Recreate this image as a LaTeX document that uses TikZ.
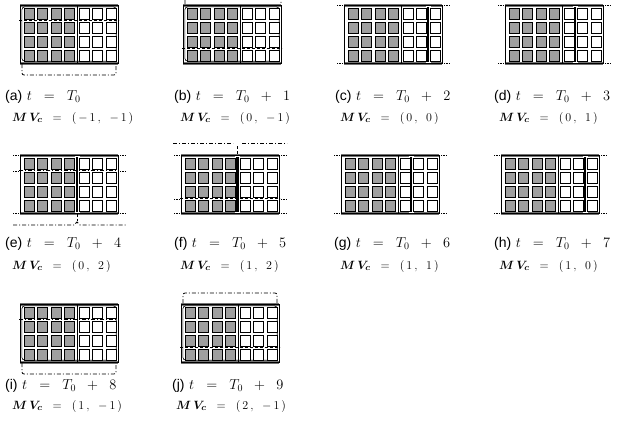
\documentclass[tikz,border=0pt]{standalone}
\usepackage{amsmath,amssymb,bm}
\usepackage{fontspec}
\newfontfamily\lbl{Liberation Sans}
\usetikzlibrary{arrows}
% 7 x 4 blocks, left four shaded
\newcommand{\cellgrid}{%
  \foreach \i in {0,...,6}
    \foreach \j in {0,...,3}
      {\ifnum\i<4 \def\cfill{gray!75}\def\cx{0}\else\def\cfill{white}\def\cx{1}\fi
       \draw[cell, fill=\cfill] ({4+13.5*\i+\cx},{3.5+14*\j}) rectangle +(10,10.5);}}
\newcommand{\ringpanel}{%
  \fill[white] (0,0) rectangle (98,58);
  \draw[rail] (0,0) -- (98,0) (0,58) -- (98,58);
  \draw[boxline] (0,0) rectangle (98,58);
  \draw[boxline, rounded corners=3pt] (1.8,1.8) rectangle (96.2,56.2);
  \cellgrid
  \draw[boxline] (57,0) -- (57,58);}
\newcommand{\barpanel}[1]{%
  \fill[white] (0,0) rectangle (98,58);
  \cellgrid
  \draw[rail] (0,0) -- (98,0) (0,58) -- (98,58);
  \draw[boxline] (0,0) rectangle (98,58) (57,0) -- (57,58);
  \draw[seam] (#1,0) -- (#1,58);
  \draw[white, line width=0.8pt] ({#1-2.5},1) -- ({#1+2.5},1) ({#1-2.5},57) -- ({#1+2.5},57);
  \draw[stub] (-7,0) -- (-2,0) (100,0) -- (106,0) (-7,58) -- (-2,58) (100,58) -- (106,58);}

\begin{document}
\begin{tikzpicture}[x=1pt, y=-1pt,
  cell/.style={line width=0.8pt},
  boxline/.style={draw=black, line width=0.6pt},
  rail/.style={black!55, line width=3pt},
  seam/.style={black, line width=2.5pt},
  stub/.style={densely dotted, line width=0.6pt},
  dashline/.style={dash pattern=on 3pt off 2pt, line width=0.8pt},
  dotdash/.style={dash pattern=on 4pt off 2pt on 1pt off 2pt, line width=0.8pt},
  sublabel/.style={anchor=west, inner sep=0pt, font=\fontsize{14}{16}\selectfont},
  mvlabel/.style={anchor=west, inner sep=0pt, font=\fontsize{12.5}{14}\selectfont}]
\useasboundingbox (0,0) rectangle (621,432);
\clip (0,0) rectangle (621,432);

% row 1
\begin{scope}[shift={(20,5)}]
  \ringpanel
  \draw[dashline] (-1,15.8) -- (99,15.8);
  \draw[dotdash, rounded corners=2pt] (2,59) -- (2,70) -- (96,70) -- (96,59);
\end{scope}
\begin{scope}[shift={(183,5)}]
  \ringpanel
  \draw[dashline] (-1,43.8) -- (99,43.8);
  \draw[dotdash, rounded corners=2pt] (2,-1) -- (2,-12) -- (98,-12) -- (98,-1);
\end{scope}
\begin{scope}[shift={(344,5)}]
  \barpanel{84}
\end{scope}
\begin{scope}[shift={(505,5)}]
  \barpanel{70}
\end{scope}

% row 2
\begin{scope}[shift={(20,155)}]
  \barpanel{57}
  \draw[dotdash] (-1,15.8) -- (99,15.8);
  \draw[stub] (-7,15.8) -- (-2,15.8) (100,15.8) -- (106,15.8);
  \draw[dashline] (57,59) -- (57,66);
  \draw[dotdash] (-7,70) -- (54,70) -- (57,67) -- (60,70) -- (106,70);
\end{scope}
\begin{scope}[shift={(181,155)}]
  \barpanel{56}
  \draw[dashline] (-1,43.8) -- (99,43.8);
  \draw[stub] (-7,43.8) -- (-2,43.8) (100,43.8) -- (106,43.8);
  \draw[dotdash] (-8,-12) -- (52,-12) (61,-12) -- (106,-12);
  \draw[dashline] (56,-9) -- (56,-1);
\end{scope}
\begin{scope}[shift={(341,155)}]
  \barpanel{70}
\end{scope}
\begin{scope}[shift={(501,155)}]
  \barpanel{84}
\end{scope}

% row 3
\begin{scope}[shift={(20,304)}]
  \ringpanel
  \draw[dotdash] (-1,15.8) -- (99,15.8);
  \draw[dotdash, rounded corners=2pt] (2,59) -- (2,70) -- (96,70) -- (96,59);
\end{scope}
\begin{scope}[shift={(181,304)}]
  \ringpanel
  \draw[dashline] (-1,43.8) -- (99,43.8);
  \draw[dotdash, rounded corners=2pt] (2,-1) -- (2,-11) -- (96,-11) -- (96,-1);
\end{scope}

% captions
\node[sublabel] (ta) at (5,97) {{\lbl(a)} $t\;\;=\;\;T_0$};
\node[sublabel] (tb) at (174,97) {{\lbl(b)} $t\;\;=\;\;T_0\;\;+\;\;1$};
\node[sublabel] (tc) at (335,97) {{\lbl(c)} $t\;\;=\;\;T_0\;\;+\;\;2$};
\node[sublabel] (td) at (494,97) {{\lbl(d)} $t\;\;=\;\;T_0\;\;+\;\;3$};
\node[sublabel] (te) at (5,244) {{\lbl(e)} $t\;\;=\;\;T_0\;\;+\;\;4$};
\node[sublabel] (tf) at (174,244) {{\lbl(f)} $t\;\;=\;\;T_0\;\;+\;\;5$};
\node[sublabel] (tg) at (334,244) {{\lbl(g)} $t\;\;=\;\;T_0\;\;+\;\;6$};
\node[sublabel] (th) at (494,244) {{\lbl(h)} $t\;\;=\;\;T_0\;\;+\;\;7$};
\node[sublabel] (ti) at (5,386) {{\lbl(i)} $t\;\;=\;\;T_0\;\;+\;\;8$};
\node[sublabel] (tj) at (172,386) {{\lbl(j)} $t\;\;=\;\;T_0\;\;+\;\;9$};

\node[mvlabel] (ma) at (12,118) {$\bm{M\,V_c}\;\;=\;\;(\,-\,1\,,\;\;-\,1\,)$};
\node[mvlabel] (mb) at (180,118) {$\bm{M\,V_c}\;\;=\;\;(\,0\,,\;\;-\,1\,)$};
\node[mvlabel] (mc) at (340,118) {$\bm{M\,V_c}\;\;=\;\;(\,0\,,\;\;0\,)$};
\node[mvlabel] (md) at (499,118) {$\bm{M\,V_c}\;\;=\;\;(\,0\,,\;\;1\,)$};
\node[mvlabel] (me) at (12,266) {$\bm{M\,V_c}\;\;=\;\;(\,0\,,\;\;2\,)$};
\node[mvlabel] (mf) at (180,266) {$\bm{M\,V_c}\;\;=\;\;(\,1\,,\;\;2\,)$};
\node[mvlabel] (mg) at (340,266) {$\bm{M\,V_c}\;\;=\;\;(\,1\,,\;\;1\,)$};
\node[mvlabel] (mh) at (499,266) {$\bm{M\,V_c}\;\;=\;\;(\,1\,,\;\;0\,)$};
\node[mvlabel] (mi) at (12,406) {$\bm{M\,V_c}\;\;=\;\;(\,1\,,\;\;-\,1\,)$};
\node[mvlabel] (mj) at (176,406) {$\bm{M\,V_c}\;\;=\;\;(\,2\,,\;\;-\,1\,)$};
\end{tikzpicture}
\end{document}
